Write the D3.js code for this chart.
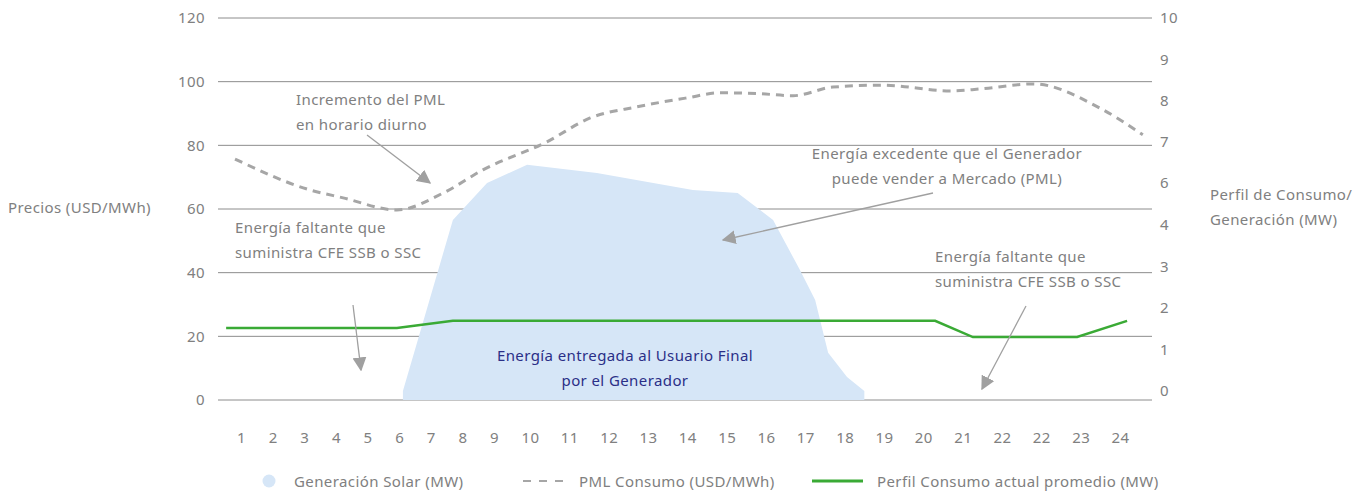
<!DOCTYPE html>
<html>
<head>
<meta charset="utf-8">
<script src="https://cdn.jsdelivr.net/npm/d3@7"></script>
<style>
  body { margin: 0; background: #fff; }
  svg { font-family: "Noto Sans", sans-serif; }
  .lbl { fill: #808080; font-size: 15px; letter-spacing: 0.4px; }
  .axis text { fill: #808080; font-size: 15px; font-family: "Noto Sans", sans-serif; letter-spacing: 0.4px; }
  .axis .domain { display: none; }
</style>
</head>
<body>
<svg id="chart" width="1363" height="494"></svg>
<script>
// tick labels (the source repeats "22")
var xLabels = ["1","2","3","4","5","6","7","8","9","10","11","12","13","14","15","16","17","18","19","20","21","22","22","23","24"]
var leftTicks = [0, 20, 40, 60, 80, 100, 120]
var rightTicks = [0, 1, 2, 3, 4, 6, 7, 8, 9, 10]

// Generación Solar (MW) - slot position / value
var solarSlot = [6.12, 7.70, 8.78, 9.92, 11.70, 14.14, 15.28, 16.18, 16.86, 17.25, 17.58, 18.06, 18.50]
var solarMW   = [0,    4.24, 6.0,  6.44, 6.24,  5.67,  5.52,  4.24,  2.92,  2.19,  0.92,  0.34,  0]

// PML Consumo (USD/MWh)
var pmlSlot = [0.81, 3.18, 4.23, 5.93, 7.39, 8.65, 10.43, 11.53, 12.72, 13.99, 14.83, 15.85, 16.69, 17.70, 18.97, 20.68, 21.44, 22.79, 24.49, 25.58]
var pmlUSD  = [75.7, 66.0, 63.5, 59.7, 65.0, 72.3, 81.1,  88.6,  92.1,  94.9,  96.5,  96.2,  95.6,  98.3,  98.9,  97.1,  97.7,  99.3,  91.7,  83.3]

// Perfil Consumo actual promedio (MW)
var consSlot = [0.53, 5.93, 7.70, 20.30, 21.26, 23.91, 25.18]
var consMW   = [1.52, 1.52, 1.69, 1.69,  1.30,  1.30,  1.69]

var svg = d3.select("#chart")

var x = d3.scaleLinear().domain([1, 9, 10, 25]).range([241, 494, 530, 1120])
var yL = d3.scaleLinear().domain([0, 120]).range([400, 18])
var yR = d3.scaleLinear().domain([0, 4, 6, 10]).range([391, 225, 183, 18])

var defs = svg.append("defs")
defs.append("marker")
    .attr("id", "arrow")
    .attr("viewBox", "0 0 10 10")
    .attr("refX", 9).attr("refY", 5)
    .attr("markerWidth", 14).attr("markerHeight", 14)
    .attr("markerUnits", "userSpaceOnUse")
    .attr("orient", "auto")
    .append("path")
    .attr("d", "M0,0 L10,5 L0,10 z")
    .attr("fill", "#a0a0a0")

// grid
svg.append("g").selectAll("line")
    .data(leftTicks)
    .enter().append("line")
    .attr("x1", 218).attr("x2", 1152)
    .attr("y1", d => yL(d)).attr("y2", d => yL(d))
    .attr("stroke", "#8c8c8c").attr("stroke-width", 1)

// solar area
var solar = solarSlot.map((s, i) => ({s: s, v: solarMW[i]}))
svg.append("path")
    .datum(solar)
    .attr("fill", "#d6e6f7")
    .attr("d", d3.area()
        .x(d => x(d.s))
        .y0(yL(0))
        .y1(d => yR(d.v)))

// PML dashed
var pml = pmlSlot.map((s, i) => ({s: s, v: pmlUSD[i]}))
svg.append("path")
    .datum(pml)
    .attr("fill", "none")
    .attr("stroke", "#a6a6a6")
    .attr("stroke-width", 3)
    .attr("stroke-dasharray", "8,6")
    .attr("d", d3.line().curve(d3.curveMonotoneX)
        .x(d => x(d.s)).y(d => yL(d.v)))

// consumo line
var cons = consSlot.map((s, i) => ({s: s, v: consMW[i]}))
svg.append("path")
    .datum(cons)
    .attr("fill", "none")
    .attr("stroke", "#3aaa35")
    .attr("stroke-width", 2.5)
    .attr("d", d3.line().x(d => x(d.s)).y(d => yR(d.v)))

// axes
svg.append("g").attr("class", "axis")
    .attr("transform", "translate(218,0)")
    .call(d3.axisLeft(yL).tickValues(leftTicks).tickSize(0).tickPadding(13))

svg.append("g").attr("class", "axis")
    .attr("transform", "translate(1152,0)")
    .call(d3.axisRight(yR).tickValues(rightTicks).tickFormat(d3.format("d")).tickSize(0).tickPadding(8))

svg.append("g").attr("class", "axis")
    .attr("transform", "translate(0,400)")
    .call(d3.axisBottom(x).tickValues(d3.range(1, 26)).tickFormat(d => xLabels[d - 1]).tickSize(0).tickPadding(32))

// axis titles
svg.append("text").attr("class", "lbl").attr("x", 8).attr("y", 213).text("Precios (USD/MWh)")
svg.append("text").attr("class", "lbl").attr("x", 1210).attr("y", 200).text("Perfil de Consumo/")
svg.append("text").attr("class", "lbl").attr("x", 1210).attr("y", 225).text("Generación (MW)")

// annotations
function note(lines, tx, ty, anchor, color) {
    var t = svg.append("text").attr("class", "lbl").attr("text-anchor", anchor || "start")
    if (color) t.style("fill", color)
    lines.forEach((l, i) => {
        t.append("tspan").attr("x", tx).attr("y", ty + i * 25).text(l)
    })
}
function arrow(x1, y1, x2, y2) {
    svg.append("line")
        .attr("x1", x1).attr("y1", y1).attr("x2", x2).attr("y2", y2)
        .attr("stroke", "#a0a0a0").attr("stroke-width", 1.3)
        .attr("marker-end", "url(#arrow)")
}

note(["Incremento del PML", "en horario diurno"], 296, 105)
arrow(367, 135, 430, 183)

note(["Energía excedente que el Generador", "puede vender a Mercado (PML)"], 947, 159, "middle")
arrow(933, 193, 723, 240)

note(["Energía faltante que", "suministra CFE SSB o SSC"], 235, 233)
arrow(353, 305, 361, 370)

note(["Energía faltante que", "suministra CFE SSB o SSC"], 935, 262)
arrow(1026, 306, 982, 389)

note(["Energía entregada al Usuario Final", "por el Generador"], 625, 361, "middle", "#2b2f87")

// legend
var leg = svg.append("g")
leg.append("circle").attr("cx", 269).attr("cy", 481).attr("r", 6.5).attr("fill", "#d6e6f7")
leg.append("text").attr("class", "lbl").attr("x", 294).attr("y", 487).text("Generación Solar (MW)")
leg.append("line").attr("x1", 523).attr("x2", 566).attr("y1", 481).attr("y2", 481)
    .attr("stroke", "#a6a6a6").attr("stroke-width", 2).attr("stroke-dasharray", "8,8")
leg.append("text").attr("class", "lbl").attr("x", 579).attr("y", 487).text("PML Consumo (USD/MWh)")
leg.append("line").attr("x1", 812).attr("x2", 863).attr("y1", 481).attr("y2", 481)
    .attr("stroke", "#3aaa35").attr("stroke-width", 3)
leg.append("text").attr("class", "lbl").attr("x", 877).attr("y", 487).text("Perfil Consumo actual promedio (MW)")
</script>
</body>
</html>
